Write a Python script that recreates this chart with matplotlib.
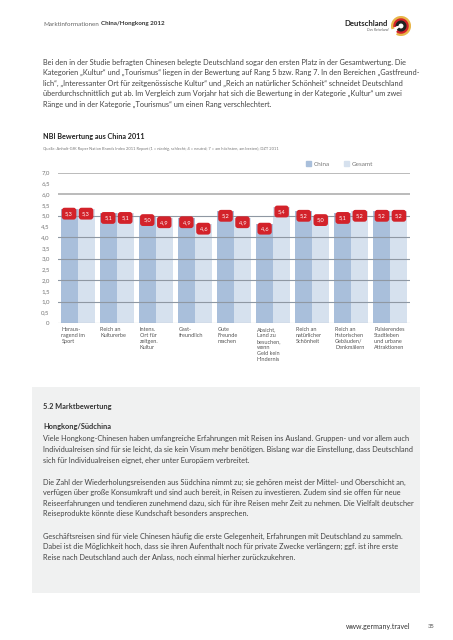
import matplotlib.pyplot as plt
import numpy as np
from matplotlib.patches import Patch, Rectangle, Arc

plt.rcParams['font.family'] = ['Lato', 'DejaVu Sans']

W, H = 453, 640

categories = ["Heraus-\nragend im\nSport", "Reich an\nKulturerbe", "Intens.\nOrt für\nzeitgen.\nKultur",
              "Gast-\nfreundlich", "Gute\nFreunde\nmachen",
              "Absicht,\nLand zu\nbesuchen,\nwenn\nGeld kein\nHindernis",
              "Reich an\nnatürlicher\nSchönheit", "Reich an\nhistorischen\nGebäuden/\nDenkmälern",
              "Pulsierendes\nStadtleben\nund urbane\nAttraktionen"]
china = [5.3, 5.1, 5.0, 4.9, 5.2, 4.6, 5.2, 5.1, 5.2]
gesamt = [5.3, 5.1, 4.9, 4.6, 4.9, 5.4, 5.0, 5.2, 5.2]
yticks = [0, 0.5, 1, 1.5, 2, 2.5, 3, 3.5, 4, 4.5, 5, 5.5, 6, 6.5, 7]
ytick_labels = ["0", "0,5", "1,0", "1,5", "2,0", "2,5", "3,0", "3,5", "4,0", "4,5",
                "5,0", "5,5", "6,0", "6,5", "7,0"]

intro = ["Bei den in der Studie befragten Chinesen belegte Deutschland sogar den ersten Platz in der Gesamtwertung. Die",
         "Kategorien „Kultur“ und „Tourismus“ liegen in der Bewertung auf Rang 5 bzw. Rang 7. In den Bereichen „Gastfreund-",
         "lich“, „Interessanter Ort für zeitgenössische Kultur“ und „Reich an natürlicher Schönheit“ schneidet Deutschland",
         "überdurchschnittlich gut ab. Im Vergleich zum Vorjahr hat sich die Bewertung in der Kategorie „Kultur“ um zwei",
         "Ränge und in der Kategorie „Tourismus“ um einen Rang verschlechtert."]
para1 = ["Viele Hongkong-Chinesen haben umfangreiche Erfahrungen mit Reisen ins Ausland. Gruppen- und vor allem auch",
         "Individualreisen sind für sie leicht, da sie kein Visum mehr benötigen. Bislang war die Einstellung, dass Deutschland",
         "sich für Individualreisen eignet, eher unter Europäern verbreitet."]
para2 = ["Die Zahl der Wiederholungsreisenden aus Südchina nimmt zu; sie gehören meist der Mittel- und Oberschicht an,",
         "verfügen über große Konsumkraft und sind auch bereit, in Reisen zu investieren. Zudem sind sie offen für neue",
         "Reiseerfahrungen und tendieren zunehmend dazu, sich für ihre Reisen mehr Zeit zu nehmen. Die Vielfalt deutscher",
         "Reiseprodukte könnte diese Kundschaft besonders ansprechen."]
para3 = ["Geschäftsreisen sind für viele Chinesen häufig die erste Gelegenheit, Erfahrungen mit Deutschland zu sammeln.",
         "Dabei ist die Möglichkeit hoch, dass sie ihren Aufenthalt noch für private Zwecke verlängern; ggf. ist ihre erste",
         "Reise nach Deutschland auch der Anlass, noch einmal hierher zurückzukehren."]

c_china = '#a9bfdb'
c_gesamt = '#d6e1ee'
c_red = '#d3222a'
c_text = '#444444'


def fx(x):
    return x / W


def fy(y):
    return 1 - y / H


def lines(fig, rows, x, y0, step, **kw):
    for k, s in enumerate(rows):
        fig.text(fx(x), fy(y0 + k * step), s, va='center', ha='left', **kw)


fig = plt.figure(figsize=(W / 100, H / 100), dpi=100)
fig.patch.set_facecolor('white')

# header
fig.text(fx(43), fy(24), "Marktinformationen", fontsize=4.5, color='#666666', va='center')
fig.text(fx(101), fy(24), "China/Hongkong 2012", fontsize=4.5, color='#333333', va='center', weight='bold')
fig.text(fx(388), fy(23), "Deutschland", fontsize=5.6, color='#222222', va='center', ha='right', weight='bold')
fig.text(fx(388), fy(30), "Das Reiseland", fontsize=2.6, color='#666666', va='center', ha='right', style='italic')
logo = fig.add_axes([fx(391), fy(36), fx(20), 20 / H])
logo.set_xlim(-1, 1)
logo.set_ylim(-1, 1)
logo.set_aspect('equal')
logo.axis('off')
for r, col, a0, a1 in [(0.85, '#e8b64a', 200, 60), (0.62, '#d3222a', 190, 50), (0.4, '#222222', 180, 40)]:
    logo.add_patch(Arc((0, 0), 2 * r, 2 * r, theta1=a1 - 180, theta2=a0, color=col, lw=2.2))

# intro text
lines(fig, intro, 43, 62, 10.5, fontsize=5.3, color=c_text)

fig.text(fx(43), fy(137), "NBI Bewertung aus China 2011", fontsize=5.2, color='#222222', va='center', weight='bold')
fig.text(fx(43), fy(149), "Quelle: Anholt-GfK Roper Nation Brands Index 2011 Report (1 = niedrig, schlecht; 4 = neutral; "
         "7 = am höchsten, am besten); DZT 2011", fontsize=2.9, color='#777777', va='center')

# chart
ax = fig.add_axes([fx(58), fy(323), (410 - 58) / W, (323 - 172.7) / H])
x = np.arange(len(categories))
bw = 0.435
ax.bar(x - bw / 2, china, bw, color=c_china, zorder=1)
ax.bar(x + bw / 2, gesamt, bw, color=c_gesamt, zorder=1)
for v in range(8):
    col = '#b5b5b5' if v >= 6 else '#8f98a3'
    ax.axhline(v, color=col, lw=1.3 if v >= 6 else 0.8, zorder=2)
ax.set_xlim(-0.5, len(categories) - 0.5)
ax.set_ylim(0, 7)
ax.set_yticks(yticks)
ax.set_yticklabels(ytick_labels)
ax.tick_params(axis='y', length=0, pad=6, labelsize=4.4, labelcolor='#777777')
ax.tick_params(axis='x', length=0)
ax.set_xticks([])
for s in ax.spines.values():
    s.set_visible(False)
ax.patch.set_alpha(0)

for i in range(len(categories)):
    for xv, v in [(x[i] - bw / 2, china[i]), (x[i] + bw / 2, gesamt[i])]:
        ax.annotate(f"{v:.1f}".replace('.', ','), (xv, v), xytext=(0, -3.2), textcoords='offset points',
                    ha='center', va='center', fontsize=4.1, color='white', zorder=5,
                    bbox=dict(boxstyle='round,pad=0.6,rounding_size=0.5', fc=c_red, ec='none'))
    ax.text(x[i] - bw + 0.02, -0.18, categories[i], ha='left', va='top', fontsize=4.0,
            color='#555555', linespacing=1.25)

ax.legend(handles=[Patch(color=c_china, label='China'), Patch(color=c_gesamt, label='Gesamt')],
          loc='center left', bbox_to_anchor=(fx(300), fy(164)), bbox_transform=fig.transFigure,
          ncol=2, frameon=False, fontsize=4.6, handlelength=0.8, handleheight=0.8,
          handletextpad=0.4, columnspacing=2.2, labelcolor='#777777')

# gray box
fig.patches.append(Rectangle((fx(32), fy(593)), (420 - 32) / W, (593 - 387) / H,
                             transform=fig.transFigure, fc='#f0f1f1', ec='none', zorder=0))
fig.text(fx(43), fy(407), "5.2 Marktbewertung", fontsize=5.3, color='#333333', va='center', weight='bold')
fig.text(fx(43), fy(427), "Hongkong/Südchina", fontsize=5.3, color='#333333', va='center', weight='bold')
lines(fig, para1, 43, 439, 10.5, fontsize=5.3, color=c_text)
lines(fig, para2, 43, 482, 10.5, fontsize=5.3, color=c_text)
lines(fig, para3, 43, 536, 10.5, fontsize=5.3, color=c_text)

# footer
fig.text(fx(410), fy(627), "www.germany.travel", fontsize=5.0, color='#333333', va='center', ha='right')
fig.text(fx(428), fy(627), "35", fontsize=4.2, color='#555555', va='center', ha='left')

fig.savefig('out.png', dpi=100)
